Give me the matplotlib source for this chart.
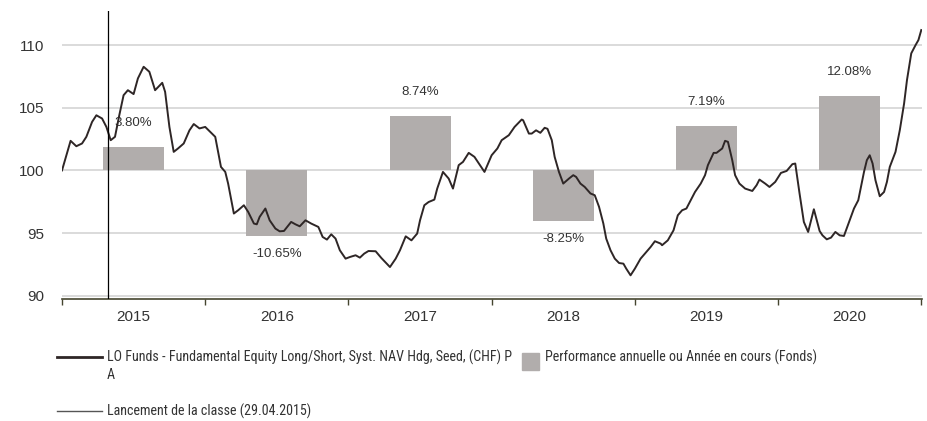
import matplotlib
matplotlib.use("Agg")
import matplotlib.pyplot as plt
from matplotlib.lines import Line2D
from matplotlib.patches import Rectangle

plt.rcParams['font.family'] = ['Liberation Sans', 'DejaVu Sans']
legend_font = ['Roboto Condensed', 'Liberation Sans', 'DejaVu Sans']

# fund NAV rebased to 100, x as decimal years
dates = [2015.00, 2015.06, 2015.10, 2015.14, 2015.17, 2015.21, 2015.24, 2015.28, 2015.31, 2015.34,
         2015.37, 2015.40, 2015.43, 2015.46, 2015.50, 2015.53, 2015.57, 2015.61, 2015.65, 2015.70,
         2015.72, 2015.75, 2015.78, 2015.81, 2015.85, 2015.89, 2015.92, 2015.96, 2016.00, 2016.07,
         2016.11, 2016.14, 2016.16, 2016.20, 2016.23, 2016.27, 2016.30, 2016.34, 2016.36, 2016.38,
         2016.42, 2016.45, 2016.49, 2016.52, 2016.55, 2016.60, 2016.63, 2016.66, 2016.70, 2016.74,
         2016.79, 2016.82, 2016.85, 2016.88, 2016.91, 2016.94, 2016.98, 2017.01, 2017.05, 2017.08,
         2017.11, 2017.14, 2017.19, 2017.23, 2017.29, 2017.33, 2017.36, 2017.40, 2017.44, 2017.48,
         2017.50, 2017.53, 2017.56, 2017.60, 2017.62, 2017.66, 2017.70, 2017.73, 2017.77, 2017.80,
         2017.84, 2017.88, 2017.95, 2018.00, 2018.04, 2018.07, 2018.12, 2018.16, 2018.21, 2018.22,
         2018.26, 2018.28, 2018.31, 2018.34, 2018.37, 2018.39, 2018.42, 2018.44, 2018.47, 2018.50,
         2018.54, 2018.57, 2018.59, 2018.62, 2018.65, 2018.69, 2018.72, 2018.75, 2018.78, 2018.80,
         2018.83, 2018.86, 2018.89, 2018.92, 2018.94, 2018.97, 2019.00, 2019.04, 2019.07, 2019.11,
         2019.14, 2019.18, 2019.19, 2019.23, 2019.27, 2019.30, 2019.33, 2019.36, 2019.39, 2019.42,
         2019.46, 2019.49, 2019.51, 2019.55, 2019.57, 2019.61, 2019.63, 2019.65, 2019.68, 2019.70,
         2019.73, 2019.77, 2019.82, 2019.85, 2019.87, 2019.91, 2019.94, 2019.98, 2020.02, 2020.06,
         2020.10, 2020.12, 2020.15, 2020.18, 2020.21, 2020.25, 2020.29, 2020.31, 2020.34, 2020.37,
         2020.40, 2020.43, 2020.46, 2020.50, 2020.53, 2020.56, 2020.60, 2020.62, 2020.64, 2020.66,
         2020.68, 2020.71, 2020.74, 2020.76, 2020.78, 2020.82, 2020.85, 2020.88, 2020.90, 2020.93,
         2020.96, 2020.98, 2021.00]
nav = [100.00, 102.36, 101.93, 102.15, 102.68, 103.87, 104.40, 104.14, 103.47, 102.41,
       102.68, 104.40, 106.00, 106.40, 106.09, 107.34, 108.27, 107.87, 106.40, 106.99,
       106.27, 103.47, 101.48, 101.75, 102.15, 103.20, 103.70, 103.35, 103.47, 102.68,
       100.28, 99.88, 98.95, 96.56, 96.82, 97.22, 96.69, 95.76, 95.70, 96.29,
       96.96, 96.02, 95.36, 95.14, 95.17, 95.89, 95.70, 95.54, 96.02, 95.76,
       95.49, 94.69, 94.48, 94.90, 94.56, 93.63, 92.96, 93.09, 93.23, 93.04,
       93.36, 93.57, 93.55, 93.01, 92.29, 92.96, 93.63, 94.74, 94.42, 94.96,
       96.02, 97.22, 97.48, 97.67, 98.55, 99.88, 99.35, 98.55, 100.42, 100.68,
       101.40, 101.08, 99.88, 101.21, 101.75, 102.41, 102.81, 103.47, 104.06, 104.00,
       102.94, 102.94, 103.20, 103.00, 103.40, 103.32, 102.41, 101.08, 99.88, 98.95,
       99.35, 99.62, 99.48, 98.95, 98.68, 98.16, 98.02, 97.09, 95.76, 94.56,
       93.63, 92.96, 92.61, 92.56, 92.16, 91.63, 92.16, 92.96, 93.36, 93.89,
       94.35, 94.16, 94.03, 94.42, 95.22, 96.42, 96.82, 96.96, 97.62, 98.28,
       98.95, 99.62, 100.42, 101.40, 101.40, 101.75, 102.36, 102.28, 100.82, 99.62,
       98.95, 98.55, 98.36, 98.82, 99.27, 98.95, 98.68, 99.08, 99.80, 99.96,
       100.50, 100.55, 98.16, 95.89, 95.09, 96.90, 95.17, 94.82, 94.50, 94.64,
       95.09, 94.82, 94.77, 96.02, 96.96, 97.62, 99.88, 100.82, 101.21, 100.55,
       99.22, 97.94, 98.28, 99.08, 100.28, 101.48, 103.21, 105.34, 107.20, 109.34,
       110.00, 110.40, 111.20]

years = [2015, 2016, 2017, 2018, 2019, 2020]
perf = [3.80, -10.65, 8.74, -8.25, 7.19, 12.08]
perf_labels = ["3.80%", "-10.65%", "8.74%", "-8.25%", "7.19%", "12.08%"]
launch_date = 2015.32  # 29.04.2015

line_color = '#2e2626'
bar_color = '#b1adac'
grid_color = '#d4d4d4'
axis_color = '#45452f'
text_color = '#333333'

W, H = 927, 421
fig = plt.figure(figsize=(W / 100, H / 100), dpi=100)
ax = fig.add_axes([62 / W, 1 - 299 / H, 860 / W, 288 / H])
ax_bar = ax.twinx()

ylo, yhi = 89.74, 112.72
k = 2.03  # percent per index point on the bar scale
ax.set_ylim(ylo, yhi)
ax_bar.set_ylim((ylo - 100) * k, (yhi - 100) * k)
ax.set_xlim(2015, 2021.005)

# bars + grid on the lower axes, line on top
ax.set_zorder(ax_bar.get_zorder() + 1)
ax.patch.set_visible(False)
ax_bar.set_yticks([(v - 100) * k for v in [90, 95, 100, 105, 110]])
ax_bar.yaxis.grid(True, color=grid_color, linewidth=1.2)
ax_bar.set_axisbelow(True)
ax_bar.tick_params(axis='y', length=0, labelright=False)

centers = [y + 0.5 for y in years]
ax_bar.bar(centers, perf, width=0.426, color=bar_color, zorder=2)
for c, p, lab in zip(centers, perf, perf_labels):
    off = 17.5 if p > 0 else -12.5
    ax_bar.annotate(lab, (c, p), xytext=(0, off), textcoords='offset points',
                    ha='center', va='center', fontsize=9.5, color=text_color)

ax.plot(dates, nav, color=line_color, linewidth=1.4, zorder=3)
ax.axvline(launch_date, color='black', linewidth=0.9, zorder=4)

ax.set_yticks([90, 95, 100, 105, 110])
ax.tick_params(axis='y', length=0, pad=13, labelsize=11, labelcolor=text_color)

ax.set_xticks(range(2015, 2022))
ax.set_xticklabels([])
ax.set_xticks(centers, minor=True)
ax.set_xticklabels([str(y) for y in years], minor=True)
ax.tick_params(axis='x', which='major', length=4.5, width=1, color=axis_color)
ax.tick_params(axis='x', which='minor', length=0, pad=8, labelsize=11, labelcolor=text_color)

for a in (ax, ax_bar):
    for s in ['top', 'left', 'right', 'bottom']:
        a.spines[s].set_visible(False)
ax.spines['bottom'].set_visible(True)
ax.spines['bottom'].set_color(axis_color)
ax.spines['bottom'].set_linewidth(1.2)
ax_bar.tick_params(axis='x', length=0, labelbottom=False)

# legend drawn by hand below the chart
def fx(px):
    return px / W

def fy(py):
    return 1 - py / H

fig.add_artist(Line2D([fx(57), fx(102)], [fy(357), fy(357)], color=line_color, linewidth=2.0))
t1 = fig.text(fx(107), fy(357), "LO Funds - Fundamental Equity Long/Short, Syst. NAV Hdg, Seed, (CHF) P",
              fontsize=10, family=legend_font, color=text_color, va='center')
t2 = fig.text(fx(107), fy(375), "A", fontsize=10, family=legend_font, color=text_color, va='center')
fig.add_artist(Rectangle((fx(522), fy(370)), fx(17), 17 / H, color=bar_color))
t3 = fig.text(fx(545), fy(357), "Performance annuelle ou Année en cours (Fonds)",
              fontsize=10, family=legend_font, color=text_color, va='center')
fig.add_artist(Line2D([fx(57), fx(102)], [fy(411), fy(411)], color='#555555', linewidth=1.0))
t4 = fig.text(fx(107), fy(411), "Lancement de la classe (29.04.2015)",
              fontsize=10, family=legend_font, color=text_color, va='center')

# size the legend text so the first label spans the same width as in the source
renderer = fig.canvas.get_renderer()
w = t1.get_window_extent(renderer).width
leg_size = min(11, 10 * 405 / w)
for t in (t1, t2, t3, t4):
    t.set_fontsize(leg_size)

fig.savefig("out.png", dpi=100)
